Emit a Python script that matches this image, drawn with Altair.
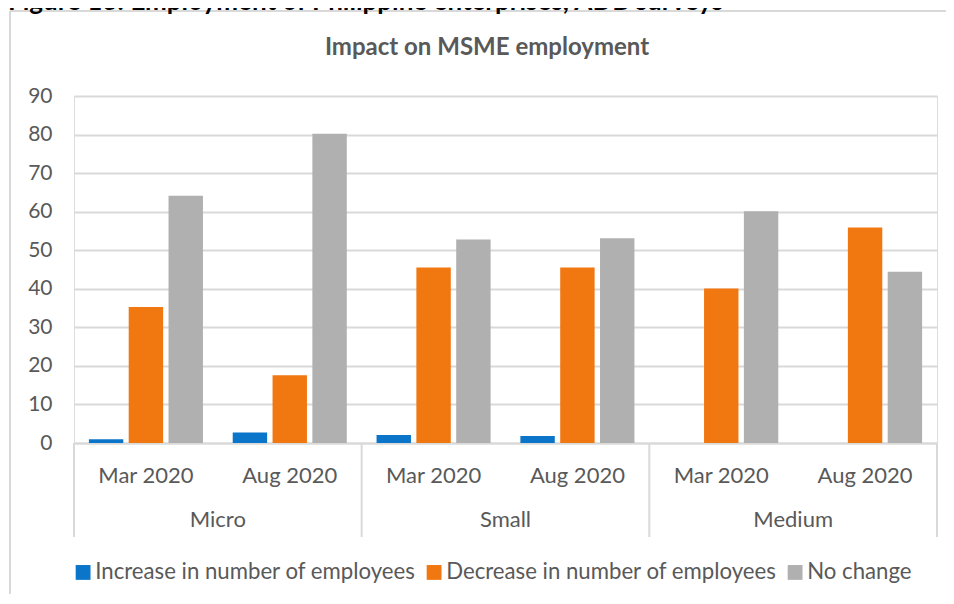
import altair as alt
import pandas as pd

# ---- data ----
sizes = ["Micro", "Small", "Medium"]
periods = ["Mar 2020", "Aug 2020"]
series = ["Increase in number of employees", "Decrease in number of employees", "No change"]
increase = [1.0, 2.7, 2.1, 1.8, 0.0, 0.0]
decrease = [35.3, 17.6, 45.5, 45.5, 40.1, 55.9]
no_change = [64.1, 80.2, 52.8, 53.1, 60.1, 44.4]
colors = ["#0B75C9", "#F17711", "#B0B0B0"]
y_ticks = list(range(0, 91, 10))
chart_title = "Impact on MSME employment"
figure_title = "Figure 13: Employment of Philippine enterprises, ADB surveys"

rows = []
cats = []
for i, s in enumerate(sizes):
    for j, p in enumerate(periods):
        k = i * 2 + j
        cat = f"{s}|{p}"
        cats.append(cat)
        for name, vals in zip(series, [increase, decrease, no_change]):
            rows.append({"cat": cat, "series": name, "value": vals[k]})
df = pd.DataFrame(rows)

W, H = 863, 347
FONT = "Lato"
TXT = "#595959"
GRID = "#D9D9D9"

bars = alt.Chart(df).mark_bar().encode(
    x=alt.X(
        "cat:N",
        sort=cats,
        scale=alt.Scale(paddingInner=0.207, paddingOuter=0.1035),
        axis=alt.Axis(
            title=None,
            labelExpr="split(datum.value, '|')[1]",
            ticks=False,
            domain=True,
            domainColor=GRID,
            domainWidth=2,
            labelAngle=0,
            labelFont=FONT,
            labelFontSize=22,
            labelColor=TXT,
            labelPadding=32,
            labelBaseline="middle",
            grid=False,
        ),
    ),
    xOffset=alt.XOffset(
        "series:N", sort=series, scale=alt.Scale(paddingInner=0.136, paddingOuter=0)
    ),
    y=alt.Y(
        "value:Q",
        scale=alt.Scale(domain=[0, 90]),
        axis=alt.Axis(
            values=y_ticks,
            title=None,
            domain=False,
            ticks=False,
            grid=True,
            gridColor=GRID,
            gridWidth=2,
            labelFont=FONT,
            labelFontSize=21,
            labelColor=TXT,
            labelPadding=22,
        ),
    ),
    color=alt.Color(
        "series:N",
        sort=series,
        scale=alt.Scale(domain=series, range=colors),
        legend=alt.Legend(
            orient="none",
            legendX=-2,
            legendY=465,
            direction="horizontal",
            columns=3,
            title=None,
            padding=0,
            symbolType="square",
            symbolSize=220,
            symbolStrokeWidth=0,
            symbolOpacity=1,
            labelFont=FONT,
            labelFontSize=22.2,
            labelColor=TXT,
            labelLimit=0,
            labelOffset=1,
            columnPadding=7,
        ),
    ),
)

grp_df = pd.DataFrame({"pos": [0.5, 1.5, 2.5], "label": sizes})
groups = alt.Chart(grp_df).mark_text(
    font=FONT, fontSize=22, color=TXT, baseline="middle", align="center"
).encode(
    x=alt.X("pos:Q", scale=alt.Scale(domain=[0, 3], nice=False, zero=False), axis=None),
    y=alt.value(H + 77),
    text="label:N",
)

sep_df = pd.DataFrame({"pos": [0, 1, 2, 3]})
seps = alt.Chart(sep_df).mark_rule(color=GRID, strokeWidth=2).encode(
    x=alt.X("pos:Q", scale=alt.Scale(domain=[0, 3], nice=False, zero=False), axis=None),
    y=alt.value(H),
    y2=alt.value(H + 94),
)

frame_df = pd.DataFrame({"a": [0]})
box_left = alt.Chart(frame_df).mark_rule(color=GRID, strokeWidth=2).encode(
    x=alt.value(-64), y=alt.value(-85), y2=alt.value(H + 200)
)
box_top = alt.Chart(frame_df).mark_rule(color=GRID, strokeWidth=2).encode(
    x=alt.value(-64), x2=alt.value(W + 60), y=alt.value(-85)
)

title_txt = alt.Chart(pd.DataFrame({"t": [chart_title]})).mark_text(
    font=FONT, fontSize=24, fontWeight="bold", color=TXT, align="center", baseline="middle"
).encode(x=alt.value(413), y=alt.value(-48), text="t:N")

fig_txt = alt.Chart(pd.DataFrame({"t": [figure_title]})).mark_text(
    font=FONT, fontSize=26, fontWeight="bold", color="#000000", align="left", baseline="alphabetic"
).encode(x=alt.value(-66), y=alt.value(-86.5), text="t:N")

chart = (
    alt.layer(box_left, box_top, fig_txt, title_txt, bars, seps, groups)
    .resolve_scale(x="independent")
    .properties(
        width=W,
        height=H,
        autosize=alt.AutoSizeParams(type="none"),
        padding={"left": 66, "top": 88, "right": 9, "bottom": 151},
    )
    .configure_view(stroke=None)
    .configure(background="white")
)

chart.save("out.html", embed_options={"renderer": "svg", "actions": False})
